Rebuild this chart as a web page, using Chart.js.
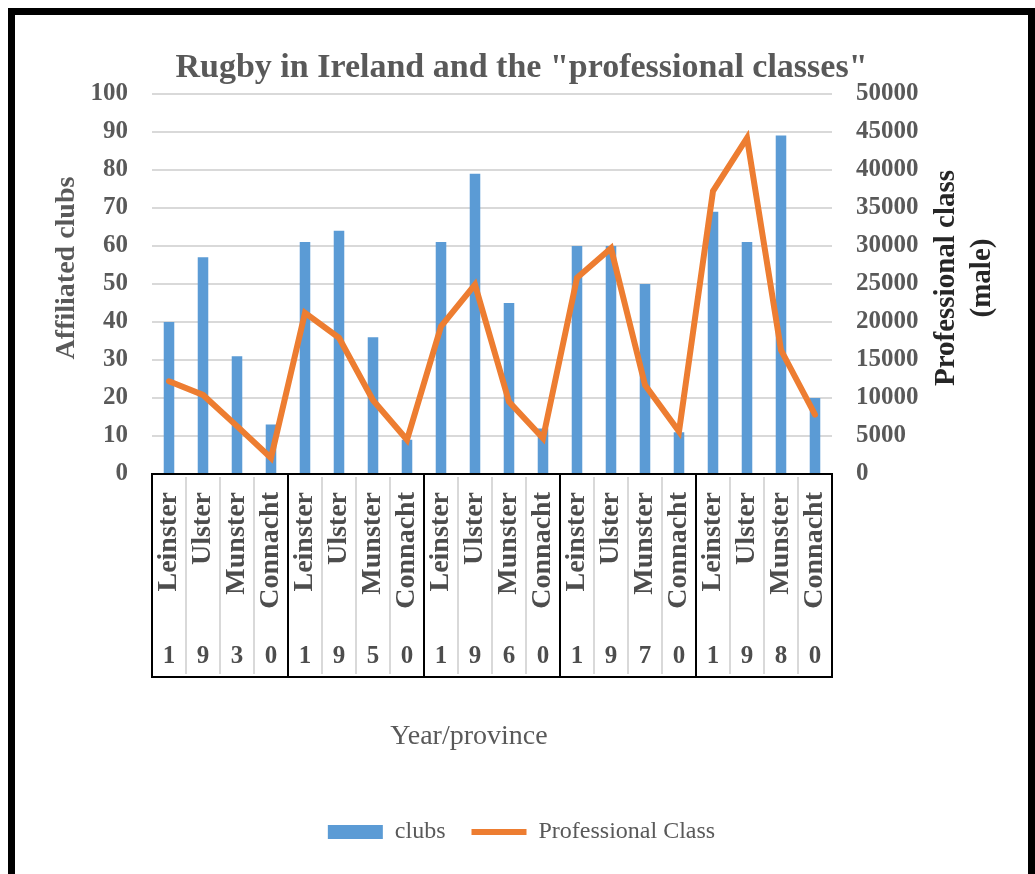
<!DOCTYPE html>
<html>
<head>
<meta charset="utf-8">
<script src="https://cdn.jsdelivr.net/npm/chart.js@4.4.0/dist/chart.umd.min.js"></script>
<style>
  html, body { margin: 0; padding: 0; background: #fff; overflow: hidden; }
  #frame {
    position: absolute; left: 8px; top: 8px;
    width: 1013px; height: 870px;
    border: 7px solid #000; border-bottom: none;
    background: #fff;
  }
  #chart-1 { display: block; }
</style>
</head>
<body>
<div id="frame"><canvas id="chart-1" width="1013" height="859"></canvas></div>
<script>
var chartTitle = 'Rugby in Ireland and the "professional classes"';

var provinces = [
  "Leinster", "Ulster", "Munster", "Connacht",
  "Leinster", "Ulster", "Munster", "Connacht",
  "Leinster", "Ulster", "Munster", "Connacht",
  "Leinster", "Ulster", "Munster", "Connacht",
  "Leinster", "Ulster", "Munster", "Connacht"
];

// the year is written one digit under each province (1930, 1950, 1960, 1970, 1980)
var yearDigits = [
  "1", "9", "3", "0",
  "1", "9", "5", "0",
  "1", "9", "6", "0",
  "1", "9", "7", "0",
  "1", "9", "8", "0"
];

var clubs = [40, 57, 31, 13, 61, 64, 36, 9, 61, 79, 45, 12, 60, 60, 50, 11, 69, 61, 89, 20];
var professionalClass = [
  12200, 10400, 6300, 2100,
  21200, 17900, 9700, 4500,
  19400, 24900, 9500, 4700,
  25800, 29700, 11700, 5600,
  37200, 44200, 16300, 7800
];

var leftTitle = ["Affiliated clubs"];
var rightTitle = ["Professional class", "(male)"];
var bottomTitle = ["Year/province"];

var serif = "'Liberation Serif', 'Times New Roman', serif";
Chart.defaults.font.family = serif;
Chart.defaults.color = "#595959";

// boxes round each year under the axis + the axis titles
var yearBoxes = {
  id: "yearBoxes",
  afterDraw: function (chart, args, opts) {
    var ctx = chart.ctx;
    var x = chart.scales.x;
    var area = chart.chartArea;
    var n = provinces.length;
    var top = area.bottom;
    var bottom = chart.scales.x2.top + opts.digitRowHeight;

    function edge(i) {
      if (i <= 0) return area.left;
      if (i >= n) return area.right;
      return (x.getPixelForValue(i - 1) + x.getPixelForValue(i)) / 2;
    }

    ctx.save();
    ctx.strokeStyle = "#D9D9D9";
    ctx.lineWidth = 2;
    for (var i = 1; i < n; i++) {
      if (i % 4 === 0) continue;
      ctx.beginPath();
      ctx.moveTo(edge(i), top + 3);
      ctx.lineTo(edge(i), bottom - 3);
      ctx.stroke();
    }
    ctx.strokeStyle = "#000";
    ctx.lineWidth = 2;
    for (var g = 0; g < n; g += 4) {
      ctx.strokeRect(edge(g), top, edge(g + 4) - edge(g), bottom - top);
    }

    opts.titles.forEach(function (t) {
      ctx.save();
      ctx.translate(t.x, t.y);
      ctx.rotate(t.rotate);
      ctx.font = (t.bold ? "bold " : "") + t.size + "px " + serif;
      ctx.fillStyle = t.color;
      ctx.textAlign = "center";
      ctx.textBaseline = "middle";
      var first = -(t.text.length - 1) * t.gap / 2;
      t.text.forEach(function (line, k) {
        ctx.fillText(line, 0, first + k * t.gap);
      });
      ctx.restore();
    });
    ctx.restore();
  }
};

var ctx = document.getElementById("chart-1").getContext("2d");
var myChart = new Chart(ctx, {
  type: "bar",
  data: {
    labels: provinces,
    datasets: [
      {
        type: "bar",
        label: "clubs",
        data: clubs,
        xAxisID: "x",
        yAxisID: "y",
        backgroundColor: "#5B9BD5",
        borderWidth: 0,
        categoryPercentage: 0.62,
        barPercentage: 0.5,
        pointStyle: "rect",
        order: 1
      },
      {
        type: "line",
        label: "Professional Class",
        data: professionalClass,
        xAxisID: "x",
        yAxisID: "y1",
        borderColor: "#ED7D31",
        backgroundColor: "#ED7D31",
        borderWidth: 6,
        borderCapStyle: "round",
        pointRadius: 0,
        pointStyle: "line",
        tension: 0,
        order: 0
      }
    ]
  },
  options: {
    responsive: false,
    animation: false,
    devicePixelRatio: 1,
    layout: { padding: { left: 0, right: 0, top: 0, bottom: 20 } },
    plugins: {
      title: {
        display: true,
        text: chartTitle,
        color: "#595959",
        font: { size: 34, weight: "bold" },
        padding: { top: 33, bottom: 5 }
      },
      legend: {
        position: "bottom",
        labels: {
          usePointStyle: true,
          pointStyleWidth: 55,
          boxHeight: 14,
          padding: 26,
          color: "#595959",
          font: { size: 24 },
          sort: function (a, b) { return a.datasetIndex - b.datasetIndex; }
        }
      },
      tooltip: { enabled: false },
      yearBoxes: {
        digitRowHeight: 53,
        titles: [
          { text: leftTitle, x: 52, y: 253, rotate: -Math.PI / 2, size: 28, bold: true, color: "#595959", gap: 0 },
          { text: rightTitle, x: 950, y: 263, rotate: -Math.PI / 2, size: 29, bold: true, color: "#262626", gap: 36 },
          { text: bottomTitle, x: 454, y: 722, rotate: 0, size: 28, bold: false, color: "#595959", gap: 0 }
        ]
      }
    },
    scales: {
      x: {
        type: "category",
        offset: true,
        weight: 0,
        grid: { display: false, drawTicks: false },
        border: { display: false },
        ticks: {
          autoSkip: false,
          minRotation: 90,
          maxRotation: 90,
          padding: 18,
          color: "#4D4D4D",
          font: { size: 28, weight: "bold" }
        },
        afterFit: function (s) { s.height = 150; }
      },
      x2: {
        type: "category",
        labels: yearDigits,
        position: "bottom",
        offset: true,
        weight: 1,
        grid: { display: false, drawTicks: false },
        border: { display: false },
        ticks: {
          autoSkip: false,
          maxRotation: 0,
          padding: 18,
          color: "#4D4D4D",
          font: { size: 25, weight: "bold" }
        },
        afterFit: function (s) { s.height = 170; }
      },
      y: {
        position: "left",
        min: 0,
        max: 100,
        ticks: { stepSize: 10, padding: 24, color: "#595959", font: { size: 25, weight: "bold" } },
        grid: { color: "#D9D9D9", lineWidth: 2, drawTicks: false },
        border: { display: false },
        afterFit: function (s) { s.width = 137; }
      },
      y1: {
        position: "right",
        min: 0,
        max: 50000,
        ticks: {
          stepSize: 5000,
          padding: 24,
          color: "#595959",
          font: { size: 25, weight: "bold" },
          callback: function (value) { return String(value); }
        },
        grid: { display: false, drawTicks: false },
        border: { display: false },
        afterFit: function (s) { s.width = 196; }
      }
    }
  },
  plugins: [yearBoxes]
});
</script>
</body>
</html>
